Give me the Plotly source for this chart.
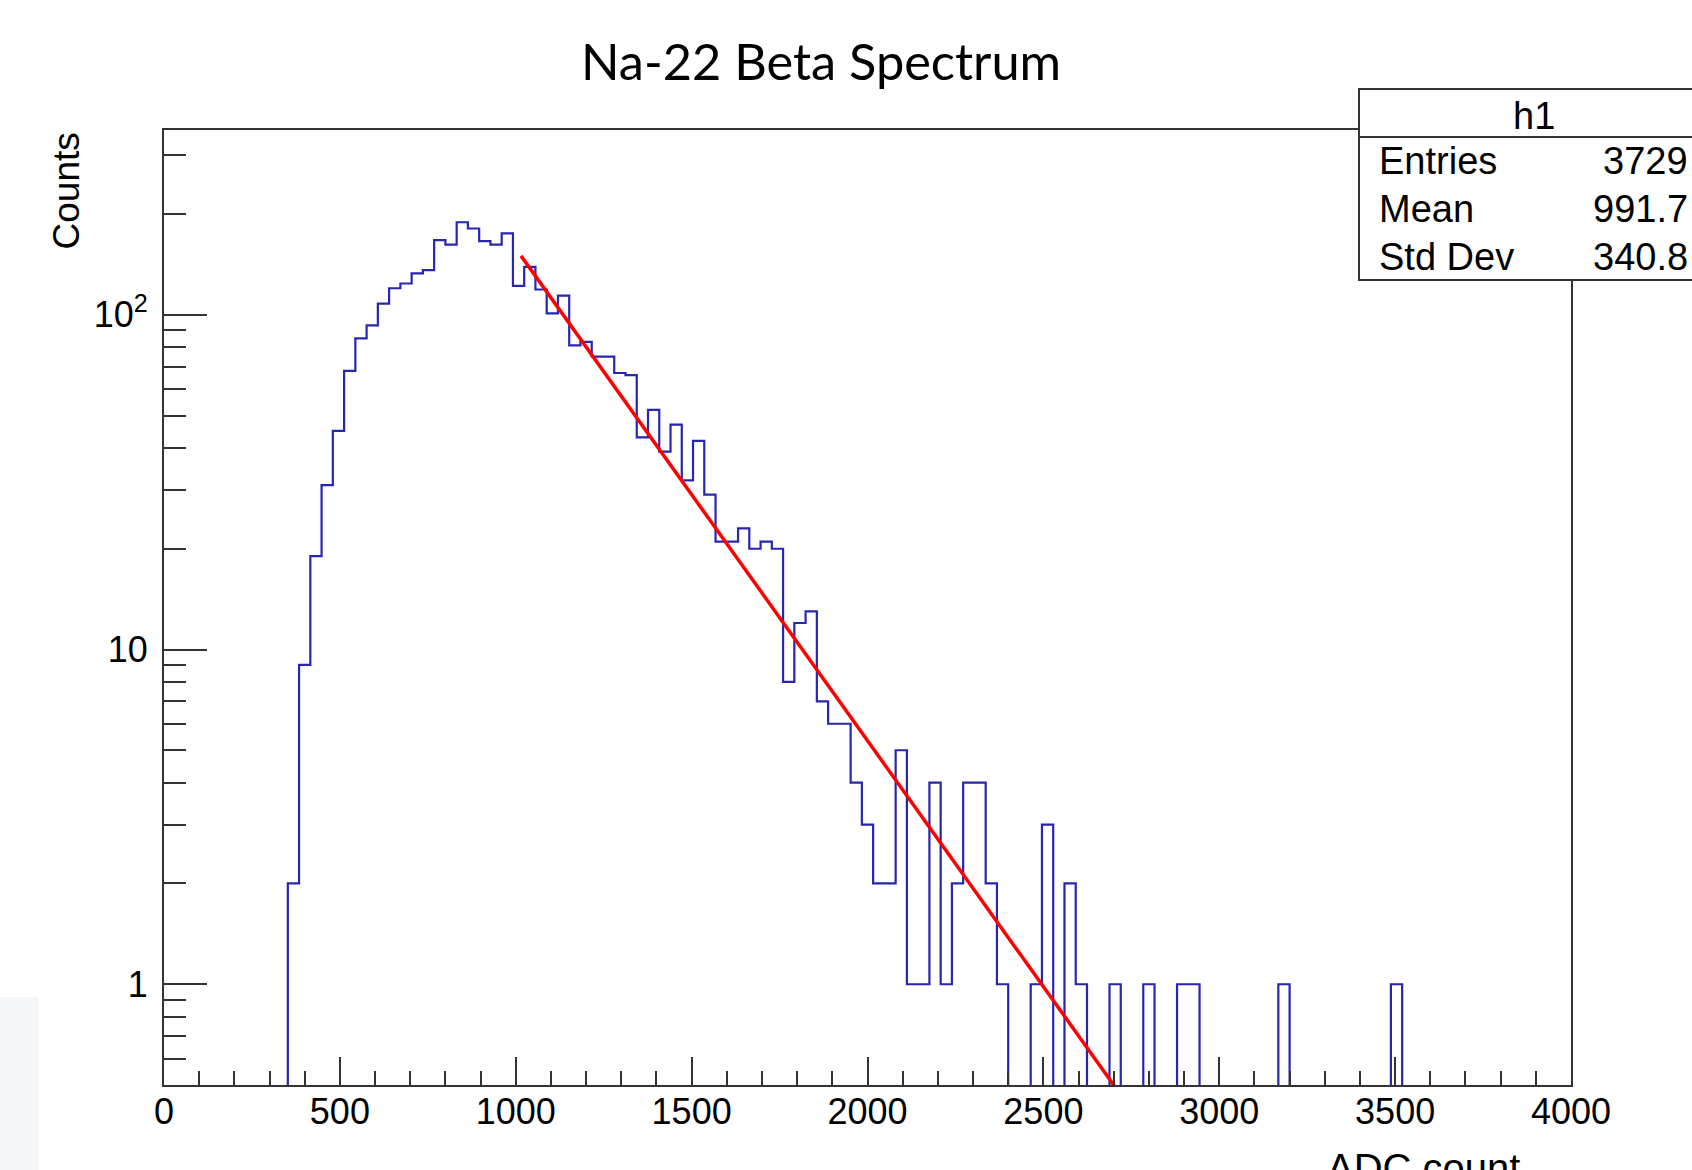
import numpy as np
import plotly.graph_objects as go

# ---------------- data ----------------
bin_low = 0.0
bin_width = 32.0
counts = [
    0, 0, 0, 0, 0, 0, 0, 0, 0, 0, 0,            # 0 - 352
    2, 9, 19, 31, 45, 68, 85, 93, 108, 120,     # 352 - 672
    124, 133, 136, 167, 162, 189, 181, 166, 162, 175,
    122, 139, 119, 101, 114, 81, 83, 75, 75, 67,
    66, 43, 52, 39, 47, 32, 42, 29, 21, 21,
    23, 20, 21, 20, 8, 12, 13, 7, 6, 6,
    4, 3, 2, 2, 5, 1, 1, 4, 1, 2,
    4, 4, 2, 1, 0, 0, 1, 3, 0, 2,
    1, 0, 0, 1, 0, 0, 1, 0, 0, 1,
    1, 0, 0, 0, 0, 0, 0, 0, 1, 0,
    0, 0, 0, 0, 0, 0, 0, 0, 1, 0,
    0, 0, 0, 0, 0, 0, 0, 0, 0, 0,
    0, 0, 0, 0, 0,
]
# exponential fit  (ln y = p0 + p1*x)
fit_p0 = 8.446
fit_p1 = -0.003385
fit_xmin = 1015.0
fit_xmax = 2800.0

title_text = "Na-22 Beta Spectrum"
x_title = "ADC count"
y_title = "Counts"
x_tickvals = [0, 500, 1000, 1500, 2000, 2500, 3000, 3500, 4000]
y_tickvals = [1, 10, 100]
y_ticktext = ["1", "10", "10<sup>2</sup>"]
y_minor_vals = [0.5, 0.6, 0.7, 0.8, 0.9, 2, 3, 4, 5, 6, 7, 8, 9,
                20, 30, 40, 50, 60, 70, 80, 90, 200, 300]
stats_name = "h1"
stats_labels = ["Entries", "Mean", "Std Dev"]
stats_values = ["3729", "991.7", "340.8"]

# ---------------- geometry ----------------
W, H = 1692, 1170
L, R, T, B = 164, 1571, 130, 1085


def px(xp):
    return (xp - L) / (R - L)


def py(yp):
    return (B - yp) / (B - T)


edges = bin_low + bin_width * np.arange(len(counts) + 1)
cnt = np.array(counts, dtype=float)
draw_cnt = np.where(cnt > 0, cnt, 1e-3)
xs = np.repeat(edges, 2)[1:-1]
ys = np.repeat(draw_cnt, 2)

fx = np.linspace(fit_xmin, fit_xmax, 200)
fy = np.exp(fit_p0 + fit_p1 * fx)

fig = go.Figure()
fig.add_trace(go.Scatter(x=xs, y=ys, mode="lines",
                         line=dict(color="#2626b0", width=2.2), hoverinfo="skip"))
fig.add_trace(go.Scatter(x=fx, y=fy, mode="lines",
                         line=dict(color="#ff0000", width=3.5)))

axis_col = "#333333"
fig.update_layout(
    width=W, height=H,
    margin=dict(l=L, r=W - R, t=T, b=H - B, pad=0),
    paper_bgcolor="white", plot_bgcolor="white",
    showlegend=False,
    font=dict(family="Liberation Sans, Arial, sans-serif", color="black"),
    xaxis=dict(range=[0, 4000], showgrid=False, zeroline=False,
               showline=True, linecolor=axis_col, linewidth=2, mirror=True,
               ticks="inside", ticklen=28, tickwidth=2, tickcolor=axis_col,
               tickvals=x_tickvals, tickfont=dict(size=36),
               ticklabelstandoff=-6,
               minor=dict(ticks="inside", ticklen=14, tickwidth=2,
                          tickcolor=axis_col, dtick=100, showgrid=False)),
    yaxis=dict(type="log", range=[np.log10(0.5), 2.552], showgrid=False,
               zeroline=False, showline=True, linecolor=axis_col, linewidth=2,
               mirror=True, ticks="inside", ticklen=43, tickwidth=2,
               tickcolor=axis_col, tickvals=y_tickvals, ticktext=y_ticktext,
               tickfont=dict(size=36), ticklabelstandoff=7,
               minor=dict(ticks="inside", ticklen=22, tickwidth=2,
                          tickcolor=axis_col, tickvals=y_minor_vals,
                          showgrid=False)),
)

annos = []
# title
annos.append(dict(text=title_text, x=px(821), y=py(60), xref="paper",
                  yref="paper", showarrow=False, xanchor="center",
                  yanchor="middle",
                  font=dict(family="Lato, Open Sans, sans-serif", size=50.5,
                            color="black")))
# axis titles
annos.append(dict(text=x_title, x=px(1522), y=py(1168), xref="paper",
                  yref="paper", showarrow=False, xanchor="right",
                  yanchor="middle", font=dict(size=40)))
annos.append(dict(text=y_title, x=px(66), y=py(131), xref="paper",
                  yref="paper", showarrow=False, xanchor="center",
                  yanchor="top", textangle=-90, font=dict(size=37)))
# stats box
box_l, box_r, box_t, box_sep, box_b = 1359, 1709, 89, 137, 280
shapes = [
    dict(type="rect", xref="paper", yref="paper", x0=px(box_l), x1=px(box_r),
         y0=py(box_b), y1=py(box_t), line=dict(color=axis_col, width=2),
         fillcolor="white", layer="above"),
    dict(type="line", xref="paper", yref="paper", x0=px(box_l), x1=px(box_r),
         y0=py(box_sep), y1=py(box_sep), line=dict(color=axis_col, width=2),
         layer="above"),
    dict(type="rect", xref="paper", yref="paper", x0=px(0), x1=px(38),
         y0=py(1170), y1=py(997), line=dict(width=0), fillcolor="#f4f6fa",
         layer="below"),
]
annos.append(dict(text=stats_name, x=px(1534), y=py(116), xref="paper",
                  yref="paper", showarrow=False, xanchor="center",
                  yanchor="middle", font=dict(size=38)))
row_mid = [161, 209, 257]
for lab, val, ym in zip(stats_labels, stats_values, row_mid):
    annos.append(dict(text=lab, x=px(1377), y=py(ym), xref="paper",
                      yref="paper", showarrow=False, xanchor="left",
                      yanchor="middle", font=dict(size=38)))
    annos.append(dict(text=val, x=px(1690), y=py(ym), xref="paper",
                      yref="paper", showarrow=False, xanchor="right",
                      yanchor="middle", font=dict(size=38)))

fig.update_layout(annotations=annos, shapes=shapes)
fig.write_html("out.html",
               config={"displayModeBar": False},
               post_script="document.body.style.margin='0px';"
                           "document.body.style.overflow='hidden';")
